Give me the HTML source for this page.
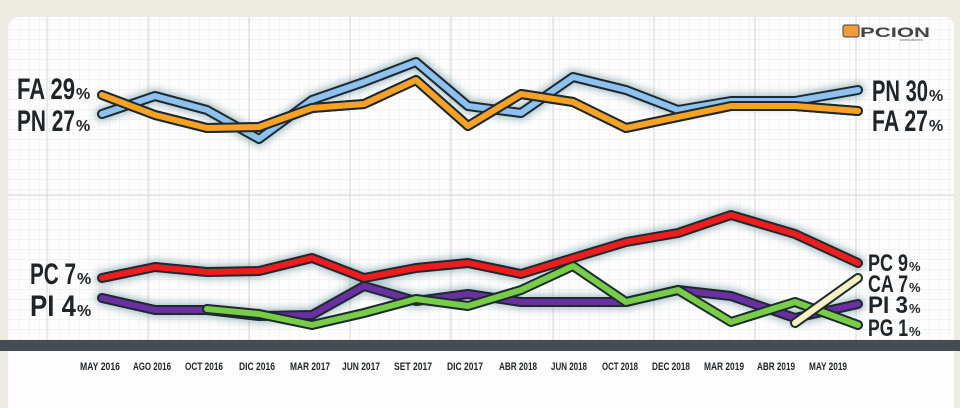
<!DOCTYPE html>
<html><head><meta charset="utf-8"><style>
html,body{margin:0;padding:0;width:960px;height:408px;overflow:hidden;background:#eeebe3;}
svg{display:block}
text{font-family:"Liberation Sans Narrow","Liberation Sans",sans-serif;font-weight:bold;fill:#1e2428}
</style></head><body>
<svg width="960" height="408" viewBox="0 0 960 408">
<defs>
<pattern id="minor" width="10" height="10" patternUnits="userSpaceOnUse"><path d="M10 0V10H0" fill="none" stroke="#e9e9e9" stroke-width="1"/></pattern>
<filter id="glow" x="-10%" y="-50%" width="120%" height="200%"><feGaussianBlur stdDeviation="4"/></filter>
</defs>
<rect x="8" y="17" width="946" height="400" rx="10" fill="#fdfdfd"/>
<rect x="8" y="17" width="946" height="323" fill="url(#minor)"/>
<g stroke="#dcdcdc" stroke-width="1.2">
<line x1="47" y1="17" x2="47" y2="340"/><line x1="148" y1="17" x2="148" y2="340"/><line x1="249" y1="17" x2="249" y2="340"/><line x1="350" y1="17" x2="350" y2="340"/><line x1="451" y1="17" x2="451" y2="340"/><line x1="553" y1="17" x2="553" y2="340"/><line x1="654" y1="17" x2="654" y2="340"/><line x1="755" y1="17" x2="755" y2="340"/><line x1="856" y1="17" x2="856" y2="340"/>
<line x1="8" y1="195" x2="954" y2="195"/>
</g>
<rect x="0" y="340" width="960" height="11" fill="#464d52"/>
<g stroke-linejoin="round" stroke-linecap="round" fill="none">
<g filter="url(#glow)" stroke="#4f7f8c" stroke-width="14" opacity="0.5">
<polyline points="102,114 155,96 207,110 259,139 312,100 364,82 416,62 468,106 521,113 573,77 626,90 678,110 731,101 795,101 858,90"/>
<polyline points="102,278 155,267 207,272 259,271 312,258 364,278 416,268 468,263 521,274 573,258 626,242 678,233 731,215 795,234 858,263"/>
<polyline points="102,298 155,310 207,310 259,316 312,315 364,286 416,301 468,294 521,302 573,302 626,302 678,290 731,296 795,318 858,304"/>
</g>
<g stroke="#1c2a30" stroke-width="10">
<polyline points="102,114 155,96 207,110 259,139 312,100 364,82 416,62 468,106 521,113 573,77 626,90 678,110 731,101 795,101 858,90"/>
<polyline points="102,95 155,115 207,128 259,127 312,108 364,104 416,80 468,126 521,94 573,102 626,128 678,117 731,106 795,106 858,111"/>
</g>
<polyline stroke="#8ec1ee" stroke-width="6" points="102,114 155,96 207,110 259,139 312,100 364,82 416,62 468,106 521,113 573,77 626,90 678,110 731,101 795,101 858,90"/>
<polyline stroke="#1c2a30" stroke-width="10" points="102,95 155,115 207,128 259,127 312,108 364,104 416,80 468,126 521,94 573,102 626,128 678,117 731,106 795,106 858,111"/>
<polyline stroke="#f7a125" stroke-width="6" points="102,95 155,115 207,128 259,127 312,108 364,104 416,80 468,126 521,94 573,102 626,128 678,117 731,106 795,106 858,111"/>
<polyline stroke="#1c2a30" stroke-width="10" points="102,298 155,310 207,310 259,316 312,315 364,286 416,301 468,294 521,302 573,302 626,302 678,290 731,296 795,318 858,304"/>
<polyline stroke="#6a2fa0" stroke-width="6" points="102,298 155,310 207,310 259,316 312,315 364,286 416,301 468,294 521,302 573,302 626,302 678,290 731,296 795,318 858,304"/>
<polyline stroke="#1c2a30" stroke-width="10" points="207,309 259,314 312,325 364,313 416,299 468,306 521,290 573,266 626,302 678,290 731,322 795,302 858,325"/>
<polyline stroke="#78cc48" stroke-width="6" points="207,309 259,314 312,325 364,313 416,299 468,306 521,290 573,266 626,302 678,290 731,322 795,302 858,325"/>
<polyline stroke="#1c2a30" stroke-width="10" points="795,323 858,278"/>
<polyline stroke="#f4f0c0" stroke-width="6" points="795,323 858,278"/>
<polyline stroke="#1c2a30" stroke-width="10" points="102,278 155,267 207,272 259,271 312,258 364,278 416,268 468,263 521,274 573,258 626,242 678,233 731,215 795,234 858,263"/>
<polyline stroke="#ee1c1c" stroke-width="6" points="102,278 155,267 207,272 259,271 312,258 364,278 416,268 468,263 521,274 573,258 626,242 678,233 731,215 795,234 858,263"/>
</g>
<g font-size="30">
<text x="17" y="99" textLength="58" lengthAdjust="spacingAndGlyphs">FA 29</text><text x="76" y="99" font-size="16">%</text>
<text x="17" y="131" textLength="58" lengthAdjust="spacingAndGlyphs">PN 27</text><text x="76" y="131" font-size="16">%</text>
<text x="30" y="284" textLength="46" lengthAdjust="spacingAndGlyphs">PC 7</text><text x="77" y="284" font-size="16">%</text>
<text x="30" y="316" textLength="46" lengthAdjust="spacingAndGlyphs">PI  4</text><text x="77" y="316" font-size="16">%</text>
<text x="872" y="101" textLength="56" lengthAdjust="spacingAndGlyphs">PN 30</text><text x="929" y="101" font-size="16">%</text>
<text x="872" y="131" textLength="56" lengthAdjust="spacingAndGlyphs">FA 27</text><text x="929" y="131" font-size="16">%</text>
</g>
<g font-size="24">
<text x="868" y="271" textLength="40" lengthAdjust="spacingAndGlyphs">PC 9</text><text x="909" y="271" font-size="13">%</text>
<text x="868" y="292" textLength="40" lengthAdjust="spacingAndGlyphs">CA 7</text><text x="909" y="292" font-size="13">%</text>
<text x="868" y="313" textLength="40" lengthAdjust="spacingAndGlyphs">PI  3</text><text x="909" y="313" font-size="13">%</text>
<text x="868" y="336" textLength="40" lengthAdjust="spacingAndGlyphs">PG 1</text><text x="909" y="336" font-size="13">%</text>
</g>
<g font-size="11" style="fill:#4a4f53" text-anchor="middle">
<text x="100" y="370" textLength="40" lengthAdjust="spacingAndGlyphs">MAY 2016</text>
<text x="152" y="370" textLength="38" lengthAdjust="spacingAndGlyphs">AGO 2016</text>
<text x="204" y="370" textLength="38" lengthAdjust="spacingAndGlyphs">OCT 2016</text>
<text x="257" y="370" textLength="36" lengthAdjust="spacingAndGlyphs">DIC 2016</text>
<text x="310" y="370" textLength="40" lengthAdjust="spacingAndGlyphs">MAR 2017</text>
<text x="361" y="370" textLength="38" lengthAdjust="spacingAndGlyphs">JUN 2017</text>
<text x="413" y="370" textLength="38" lengthAdjust="spacingAndGlyphs">SET 2017</text>
<text x="465" y="370" textLength="36" lengthAdjust="spacingAndGlyphs">DIC 2017</text>
<text x="518" y="370" textLength="38" lengthAdjust="spacingAndGlyphs">ABR 2018</text>
<text x="569" y="370" textLength="36" lengthAdjust="spacingAndGlyphs">JUN 2018</text>
<text x="620" y="370" textLength="36" lengthAdjust="spacingAndGlyphs">OCT 2018</text>
<text x="671" y="370" textLength="38" lengthAdjust="spacingAndGlyphs">DEC 2018</text>
<text x="724" y="370" textLength="40" lengthAdjust="spacingAndGlyphs">MAR 2019</text>
<text x="776" y="370" textLength="38" lengthAdjust="spacingAndGlyphs">ABR 2019</text>
<text x="828" y="370" textLength="38" lengthAdjust="spacingAndGlyphs">MAY 2019</text>
</g>
<rect x="843" y="25" width="16" height="12" rx="2" fill="#f39a3c" stroke="#444" stroke-width="1"/>
<text x="860" y="37" font-size="14" textLength="70" lengthAdjust="spacingAndGlyphs" style="fill:#444">PCION</text>
<text x="900" y="41" font-size="4" style="fill:#888">consultores</text>
</svg>
</body></html>
